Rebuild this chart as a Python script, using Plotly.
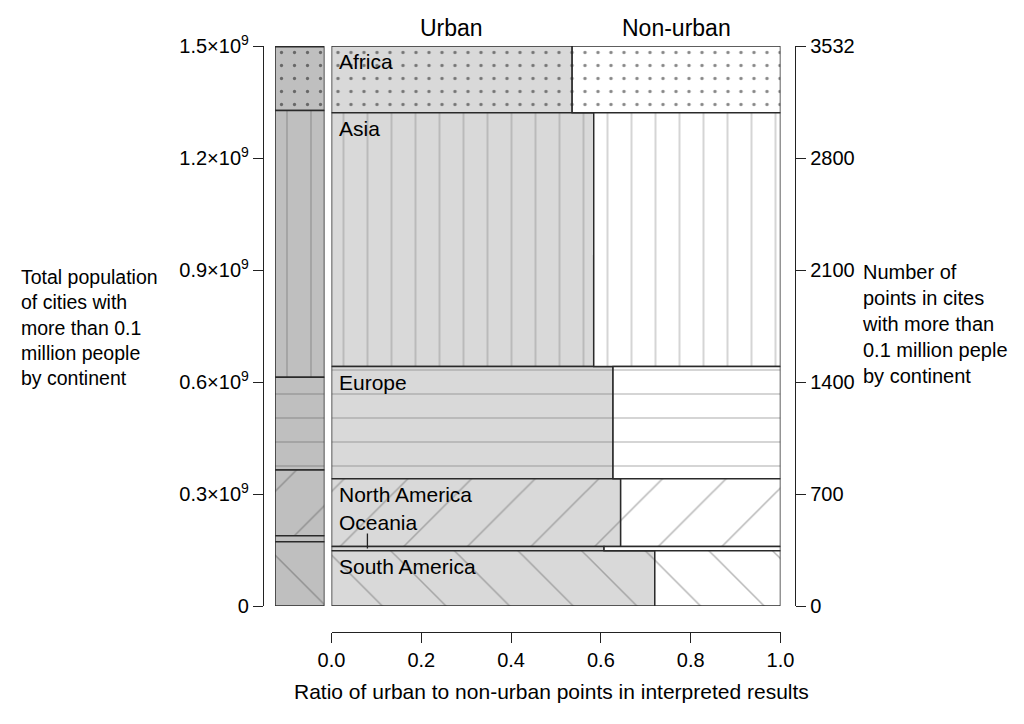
import numpy as np
import plotly.graph_objects as go

# ---------------- data ----------------
continents = ["Africa", "Asia", "Europe", "North America", "Oceania", "South America"]
points = [421, 1601, 708, 426, 28, 348]                      # number of points per continent
urban_ratio = [0.536, 0.584, 0.627, 0.644, 0.607, 0.720]     # ratio of urban points
population = [0.171e9, 0.714e9, 0.249e9, 0.176e9, 0.016e9, 0.172e9]
hatch = [".", "|", "-", "/", "", "\\"]

pop_tickvals = [0, 0.3e9, 0.6e9, 0.9e9, 1.2e9, 1.5e9]
pop_ticktext = ["0", "0.3×10<sup>9</sup>", "0.6×10<sup>9</sup>", "0.9×10<sup>9</sup>",
                "1.2×10<sup>9</sup>", "1.5×10<sup>9</sup>"]
point_ticktext = ["0", "700", "1400", "2100", "2800", "3532"]
x_tickvals = [0, 0.2, 0.4, 0.6, 0.8, 1.0]
x_ticktext = ["0.0", "0.2", "0.4", "0.6", "0.8", "1.0"]

# ---------------- derived ----------------
points_a = np.array(points, dtype=float)
total_pts = points_a.sum()
row_top = total_pts - np.concatenate([[0], np.cumsum(points_a)[:-1]])
row_bot = row_top - points_a
row_mid = (row_top + row_bot) / 2
ur = np.array(urban_ratio)

pop_a = np.array(population)
pop_top = pop_a.sum() - np.concatenate([[0], np.cumsum(pop_a)[:-1]])
pop_bot = pop_top - pop_a

size_map = {".": 13, "|": 24, "-": 24, "/": 45, "\\": 45, "": 10}
sol_map = {".": 0.05, "|": 0.05, "-": 0.05, "/": 0.035, "\\": 0.035, "": 0.1}
pat_size = [size_map[h] for h in hatch]
pat_sol = [sol_map[h] for h in hatch]
pat_fg = ["#111111" if h == "." else "#727272" for h in hatch]
pat_fg_left = ["#111111" if h == "." else "#666666" for h in hatch]

FONT = "Liberation Sans, Arial, sans-serif"
OFF = 8                      # page body margin
W, H = 1024 - OFF, 724 - OFF


def px(x):
    return (x - OFF) / W


def py(y):
    return 1 - (y - OFF) / H


fig = go.Figure()

# urban part
fig.add_trace(go.Bar(
    orientation="h", y=row_mid, x=ur, base=np.zeros(len(ur)), width=points_a,
    marker=dict(color="#d9d9d9", line=dict(color="#2a2a2a", width=1.5),
                pattern=dict(shape=hatch, size=pat_size, solidity=pat_sol,
                             fgcolor=pat_fg, fillmode="overlay")),
    xaxis="x", yaxis="y", showlegend=False, hoverinfo="skip"))
# non-urban part
fig.add_trace(go.Bar(
    orientation="h", y=row_mid, x=1 - ur, base=ur, width=points_a,
    marker=dict(color="#ffffff", line=dict(color="#2a2a2a", width=1.5),
                pattern=dict(shape=hatch, size=pat_size, solidity=pat_sol,
                             fgcolor=pat_fg, fillmode="overlay")),
    xaxis="x", yaxis="y", showlegend=False, hoverinfo="skip"))
# left population bar
fig.add_trace(go.Bar(
    x=[0] * len(pop_a), y=pop_a, base=pop_bot, width=1,
    marker=dict(color="#bfbfbf", line=dict(color="#2a2a2a", width=1.5),
                pattern=dict(shape=hatch, size=pat_size, solidity=pat_sol,
                             fgcolor=pat_fg_left, fillmode="overlay")),
    xaxis="x2", yaxis="y2", showlegend=False, hoverinfo="skip"))

ydom = [py(606), py(46)]
axis_font = dict(family=FONT, size=20, color="black")
common = dict(showline=True, linecolor="#222", linewidth=1.3, ticks="outside",
              ticklen=10, tickcolor="#222", tickwidth=1.3, tickfont=axis_font,
              showgrid=False, zeroline=False, automargin=False)

fig.update_layout(
    width=W, height=H, margin=dict(l=0, r=0, t=0, b=0, autoexpand=False),
    paper_bgcolor="white", plot_bgcolor="white", barmode="overlay",
    font=dict(family=FONT, size=20, color="black"),
    xaxis=dict(domain=[px(331.5), px(780.5)], range=[0, 1], anchor="free",
               position=py(632), tickvals=x_tickvals, ticktext=x_ticktext, **common),
    yaxis=dict(domain=ydom, range=[0, total_pts], side="right", anchor="free",
               position=px(795),
               tickvals=np.linspace(0, total_pts, len(point_ticktext)),
               ticktext=point_ticktext, **common),
    xaxis2=dict(domain=[px(275), px(324.5)], range=[-0.5, 0.5], anchor="y2",
                visible=False, automargin=False),
    yaxis2=dict(domain=ydom, range=[0, 1.5e9], side="left", anchor="free",
                position=px(263), tickvals=pop_tickvals, ticktext=pop_ticktext, **common),
)

ann = []
for i, name in enumerate(continents):
    if name == "Oceania":
        ann.append(dict(x=0, y=row_top[i], xref="x", yref="y", text=name,
                        xanchor="left", yanchor="bottom", xshift=5, yshift=10,
                        showarrow=False, font=dict(family=FONT, size=21)))
    else:
        ann.append(dict(x=0, y=row_top[i], xref="x", yref="y", text=name,
                        xanchor="left", yanchor="top", xshift=5, yshift=-2,
                        showarrow=False, font=dict(family=FONT, size=21)))

ann.append(dict(x=ur[0] / 2, y=total_pts, xref="x", yref="y", text="Urban",
                xanchor="center", yanchor="bottom", yshift=3, showarrow=False,
                font=dict(family=FONT, size=23)))
ann.append(dict(x=(1 + ur[0]) / 2, y=total_pts, xref="x", yref="y", text="Non-urban",
                xanchor="center", yanchor="bottom", yshift=3, showarrow=False,
                font=dict(family=FONT, size=23)))
ann.append(dict(x=px(19), y=py(327.5), xref="paper", yref="paper",
                text="Total population<br>of cities with<br>more than 0.1<br>million people<br>by continent",
                xanchor="left", yanchor="middle", align="left", showarrow=False,
                font=dict(family=FONT, size=19.5)))
ann.append(dict(x=px(860), y=py(324.5), xref="paper", yref="paper",
                text="Number of<br>points in cites<br>with more than<br>0.1 million peple<br>by continent",
                xanchor="left", yanchor="middle", align="left", showarrow=False,
                font=dict(family=FONT, size=20)))
ann.append(dict(x=px(551.5), y=py(691), xref="paper", yref="paper",
                text="Ratio of urban to non-urban points in interpreted results",
                xanchor="center", yanchor="middle", showarrow=False,
                font=dict(family=FONT, size=21)))
fig.update_layout(annotations=ann)

oi = continents.index("Oceania")
fig.add_shape(type="line", xref="x", yref="y", ysizemode="pixel",
              yanchor=row_mid[oi], x0=0.08, x1=0.08, y0=0, y1=15,
              line=dict(color="#222", width=1.3))

fig.write_html("out.html")
